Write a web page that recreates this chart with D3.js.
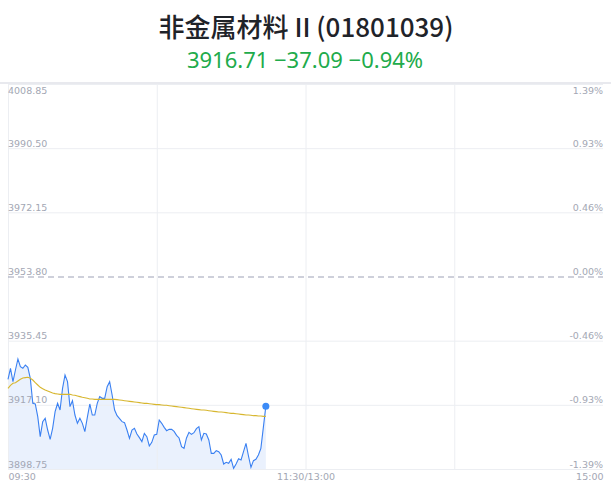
<!DOCTYPE html>
<html>
<head>
<meta charset="utf-8">
<script src="https://cdn.jsdelivr.net/npm/d3@7"></script>
<style>
  body { margin: 0; background: #fff; }
  svg { display: block; }
</style>
</head>
<body>
<svg width="611" height="492"></svg>
<script>
// title texts
const titleText = "非金属材料 II (01801039)";
const quoteText = "3916.71 −37.09 −0.94%";

// price per minute since 09:30
const prices = [
    3924.39, 3927.54, 3923.73, 3927.06, 3930.21, 3928.02, 3927.54, 3928.49, 3927.83, 3924.68,
    3917.53, 3917.34, 3913.72, 3908.00, 3912.29, 3913.24, 3909.90, 3907.23, 3910.38, 3915.15,
    3917.53, 3915.62, 3921.82, 3925.63, 3923.73, 3916.58, 3918.29, 3914.19, 3911.81, 3913.24,
    3911.81, 3909.43, 3913.53, 3917.34, 3914.19, 3914.19, 3917.53, 3919.44, 3918.96, 3918.96,
    3922.30, 3923.73, 3919.91, 3915.62, 3914.00, 3913.14, 3912.29, 3912.00, 3909.90, 3907.52,
    3909.90, 3910.38, 3908.76, 3907.71, 3906.57, 3908.95, 3908.00, 3905.33, 3906.38, 3908.47,
    3908.66, 3912.76, 3911.81, 3910.67, 3909.71, 3910.09, 3910.09, 3909.52, 3908.38, 3907.62,
    3905.14, 3904.66, 3907.62, 3909.24, 3908.66, 3909.14, 3910.28, 3910.86, 3907.04, 3908.95,
    3908.76, 3907.04, 3903.23, 3903.23, 3903.99, 3903.71, 3902.75, 3900.18, 3900.66, 3900.37,
    3901.51, 3898.94, 3900.18, 3901.71, 3901.32, 3903.71, 3906.09, 3902.47, 3899.23, 3901.13,
    3901.51, 3902.75, 3904.66, 3910.67, 3916.71
];

// average price per minute
const avgPrices = [
    3921.82, 3922.68, 3923.25, 3923.44, 3923.92, 3924.39, 3924.77, 3924.87, 3924.97, 3924.68,
    3924.20, 3923.44, 3922.77, 3922.11, 3921.72, 3921.34, 3921.06, 3920.77, 3920.49, 3920.30,
    3920.20, 3920.10, 3920.10, 3920.10, 3920.10, 3920.10, 3919.91, 3919.82, 3919.63, 3919.44,
    3919.25, 3919.15, 3918.96, 3918.77, 3918.77, 3918.67, 3918.67, 3918.67, 3918.67, 3918.67,
    3918.67, 3918.67, 3918.67, 3918.67, 3918.58, 3918.48, 3918.39, 3918.29, 3918.20, 3918.10,
    3918.01, 3917.91, 3917.82, 3917.72, 3917.63, 3917.53, 3917.53, 3917.43, 3917.34, 3917.24,
    3917.15, 3917.15, 3917.05, 3916.96, 3916.96, 3916.86, 3916.77, 3916.67, 3916.58, 3916.48,
    3916.39, 3916.29, 3916.20, 3916.10, 3916.00, 3915.91, 3915.81, 3915.72, 3915.62, 3915.62,
    3915.53, 3915.43, 3915.34, 3915.24, 3915.15, 3915.05, 3915.05, 3914.96, 3914.86, 3914.77,
    3914.67, 3914.67, 3914.57, 3914.48, 3914.38, 3914.29, 3914.19, 3914.19, 3914.10, 3914.00,
    3914.00, 3913.91, 3913.91, 3913.81, 3913.81
];

// axis ticks
const priceTicks = [4008.85, 3990.50, 3972.15, 3953.80, 3935.45, 3917.10, 3898.75];
const pctLabels = ["1.39%", "0.93%", "0.46%", "0.00%", "-0.46%", "-0.93%", "-1.39%"];
const timeTicks = [0, 120, 240];
const timeLabels = ["09:30", "11:30/13:00", "15:00"];
const prevClose = 3953.80;

const svg = d3.select("svg");

// plot box
const plotLeft = 8;
const plotRight = 603;
const plotTop = 84;
const plotBottom = 469;

const xScale = d3.scaleLinear().domain([0, 240]).range([plotLeft, plotRight]);
const yScale = d3.scaleLinear().domain([3898.75, 4008.85]).range([plotBottom, plotTop]);

const labelFont = "'DejaVu Sans', sans-serif";
const labelColor = "#a3a7b4";

// title
svg.append("text")
    .attr("x", 306)
    .attr("y", 37)
    .attr("text-anchor", "middle")
    .attr("font-family", "'Noto Sans CJK SC', 'Noto Sans', sans-serif")
    .attr("font-size", 26)
    .attr("font-weight", 500)
    .attr("fill", "#1f2329")
    .text(titleText);

svg.append("text")
    .attr("x", 305)
    .attr("y", 68)
    .attr("text-anchor", "middle")
    .attr("font-family", "'Noto Sans', sans-serif")
    .attr("font-size", 22)
    .attr("fill", "#21ab4b")
    .text(quoteText);

// top border
svg.append("line")
    .attr("x1", 0).attr("x2", 611)
    .attr("y1", plotTop - 1).attr("y2", plotTop - 1)
    .attr("stroke", "#e8e9ee")
    .attr("stroke-width", 2);

// area under price
const area = d3.area()
    .x(function(d, i) { return xScale(i); })
    .y0(plotBottom)
    .y1(function(d) { return yScale(d); });

svg.append("path")
    .datum(prices)
    .attr("d", area)
    .attr("fill", "#eaf1fd");

// vertical grid
const vGrid = svg.append("g")
    .attr("transform", "translate(0," + plotBottom + ")")
    .call(d3.axisBottom(xScale).tickValues([0, 60, 120, 180]).tickSize(-(plotBottom - plotTop)).tickFormat(""));
vGrid.select(".domain").remove();
vGrid.selectAll("line").attr("stroke", "#eceef2");

// horizontal grid with price labels
const yAxis = svg.append("g")
    .attr("transform", "translate(" + plotLeft + ",0)")
    .call(d3.axisRight(yScale).tickValues(priceTicks).tickSize(plotRight - plotLeft).tickFormat(d3.format(".2f")));
yAxis.select(".domain").remove();
yAxis.selectAll("line")
    .attr("stroke", function(d) { return d === prevClose ? "#9da1b6" : "#eceef2"; })
    .attr("stroke-dasharray", function(d) { return d === prevClose ? "6,4" : null; });
yAxis.selectAll("text")
    .attr("x", 0)
    .attr("dy", function(d, i) { return i === 0 ? 9 : -2; })
    .attr("font-family", labelFont)
    .attr("font-size", 9.5)
    .attr("fill", labelColor);

// percent labels on the right
const pAxis = svg.append("g")
    .attr("transform", "translate(" + plotRight + ",0)")
    .call(d3.axisLeft(yScale).tickValues(priceTicks).tickSize(0).tickFormat(function(d, i) { return pctLabels[i]; }));
pAxis.select(".domain").remove();
pAxis.selectAll("text")
    .attr("x", 0)
    .attr("dy", function(d, i) { return i === 0 ? 9 : -2; })
    .attr("font-family", labelFont)
    .attr("font-size", 9.5)
    .attr("fill", labelColor);

// time labels
const xAxis = svg.append("g")
    .attr("transform", "translate(0," + plotBottom + ")")
    .call(d3.axisBottom(xScale).tickValues(timeTicks).tickSize(0).tickFormat(function(d, i) { return timeLabels[i]; }));
xAxis.select(".domain").remove();
xAxis.selectAll("text")
    .attr("y", 4)
    .attr("text-anchor", function(d, i) { return i === 0 ? "start" : (i === 2 ? "end" : "middle"); })
    .attr("font-family", labelFont)
    .attr("font-size", 9.5)
    .attr("fill", labelColor);

// price line
const line = d3.line()
    .x(function(d, i) { return xScale(i); })
    .y(function(d) { return yScale(d); });

svg.append("path")
    .datum(prices)
    .attr("d", line)
    .attr("fill", "none")
    .attr("stroke", "#3a80f2")
    .attr("stroke-width", 1.1);

// average line
svg.append("path")
    .datum(avgPrices)
    .attr("d", line)
    .attr("fill", "none")
    .attr("stroke", "#d7b62e")
    .attr("stroke-width", 1.1);

// last point
const lastIndex = prices.length - 1;
svg.append("circle")
    .attr("cx", xScale(lastIndex))
    .attr("cy", yScale(prices[lastIndex]))
    .attr("r", 3.5)
    .attr("fill", "#3b8bf7");
</script>
</body>
</html>
